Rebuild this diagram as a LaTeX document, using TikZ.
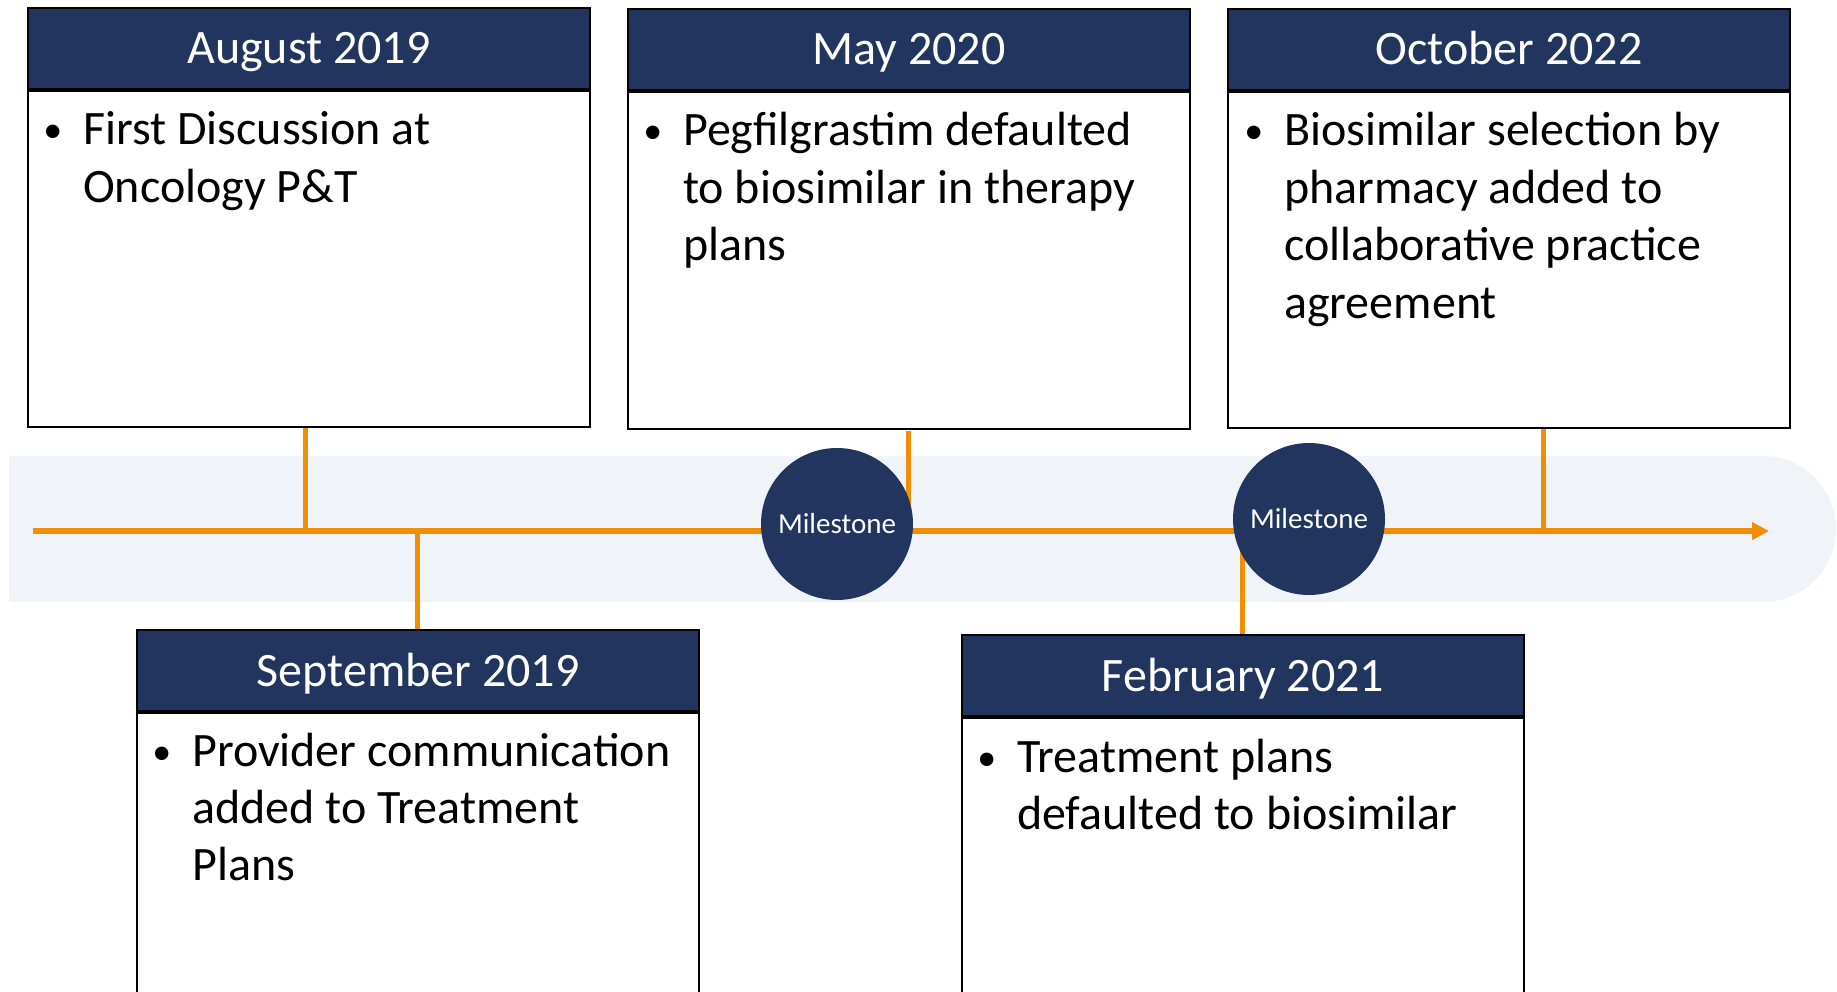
\documentclass[tikz,border=0pt]{standalone}
\usepackage{fontspec}
\setmainfont{Carlito}
\usetikzlibrary{arrows.meta,calc}
\definecolor{navy}{RGB}{33,53,94}
\definecolor{tlorange}{RGB}{241,142,4}
\definecolor{bandfill}{RGB}{240,243,248}

% one bulleted item, first line hanging after the bullet
\newcommand{\itemlines}[2]{\vtop{\hbox{\llap{\raisebox{2pt}{\fontsize{38}{38}\selectfont\textbullet}\hskip 21pt}#1}#2}}
\newcommand{\cardline}[1]{\hbox{#1}}

\begin{document}
\begin{tikzpicture}[
  x=1pt, y=-1pt,
  header/.style={draw=black, line width=2pt, fill=navy, text=white,
    minimum width=562pt, minimum height=81pt, inner sep=0pt,
    anchor=north west, text height=31pt, text depth=0pt,
    font=\fontsize{48}{57.4}\selectfont},
  bodybox/.style={draw=black, line width=2pt, fill=white,
    minimum width=562pt, inner sep=0pt, anchor=north},
  bodytext/.style={anchor=base west, inner sep=0pt, align=left,
    font=\fontsize{48}{57.4}\selectfont},
  mile/.style={circle, fill=navy, text=white, minimum size=152pt,
    inner sep=0pt, font=\fontsize{29}{35}\selectfont},
  tick/.style={draw=tlorange, line width=5pt},
  axis/.style={draw=tlorange, line width=5.5pt,
    -{Triangle[length=17pt,width=17pt]}}
]
\useasboundingbox (0,0) rectangle (1837,992);

% background band behind the time axis
\fill[bandfill] (9,456) rectangle (1763,602);
\fill[bandfill] (1763,529) circle[radius=73pt];

% time axis
\coordinate (L0) at (33,531);
\coordinate (L1) at (1769,531);
\draw[axis] (L0) -- (L1);

% connectors between cards and the axis
\coordinate (c1) at (305,424);
\coordinate (c3) at (1543,429);
\coordinate (c2) at (908,431);
\coordinate (c4) at (417,629);
\coordinate (c5) at (1242,634);
\draw[tick] (c1) -- (c1 |- L0);
\draw[tick] (c4 |- L0) -- (c4);
\draw[tick] (c2) -- (c2 |- L0);
\draw[tick] (c3) -- (c3 |- L0);
\draw[tick] (c5 |- L0) -- (c5);

% upper cards
\node[header] (h1) at (27,7) {August 2019};
\node[bodybox, minimum height=336pt] (b1) at (h1.south) {};
\node[header] (h2) at (627,8) {May 2020};
\node[bodybox, minimum height=337pt] (b2) at (h2.south) {};
\node[header] (h3) at (1227,8) {October 2022};
\node[bodybox, minimum height=336pt] (b3) at (h3.south) {};

% lower cards (run past the bottom edge)
\node[header] (h4) at (136,629) {September 2019};
\node[bodybox, minimum height=320pt] (b4) at (h4.south) {};
\node[header] (h5) at (961,634) {February 2021};
\node[bodybox, minimum height=320pt] (b5) at (h5.south) {};

% card texts
\node[bodytext] (t1) at ($(b1.north west)+(56,55)$)
  {\itemlines{First Discussion at}{\cardline{Oncology P\&T}}};
\node[bodytext] (t2) at ($(b2.north west)+(56,55)$)
  {\itemlines{Pegfilgrastim defaulted}{\cardline{to biosimilar in therapy}\cardline{plans}}};
\node[bodytext] (t3) at ($(b3.north west)+(57,55)$)
  {\itemlines{Biosimilar selection by}{\cardline{pharmacy added to}\cardline{collaborative practice}\cardline{agreement}}};
\node[bodytext] (t4) at ($(b4.north west)+(56,54)$)
  {\itemlines{Provider communication}{\cardline{added to Treatment}\cardline{Plans}}};
\node[bodytext] (t5) at ($(b5.north west)+(56,55)$)
  {\itemlines{Treatment plans}{\cardline{defaulted to biosimilar}}};

% milestones
\node[mile] (m1) at (837,524) {Milestone};
\node[mile] (m2) at (1309,519) {Milestone};
\end{tikzpicture}
\end{document}
